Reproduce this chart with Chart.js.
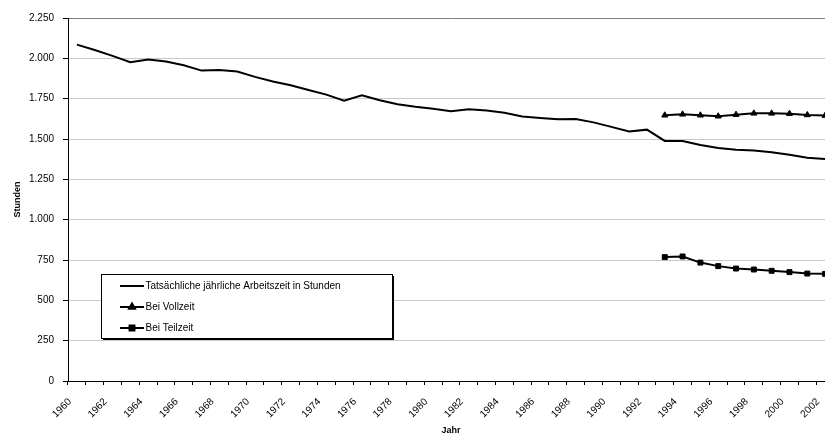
<!DOCTYPE html>
<html lang="de">
<head>
<meta charset="utf-8">
<title>Jährliche Arbeitszeit</title>
<script src="https://cdn.jsdelivr.net/npm/chart.js@4/dist/chart.umd.min.js"></script>
<style>
  html, body { margin: 0; padding: 0; background: #fff; overflow: hidden; width: 825px; height: 437px; }
  #wrap { width: 825px; height: 437px; overflow: hidden; position: relative; }
  #chart { position: absolute; left: 0; top: 0; }
</style>
</head>
<body>
<div id="wrap"><canvas id="chart" width="834" height="437"></canvas></div>
<script>
// Jahre 1960–2002
const years = [];
for (let y = 1960; y <= 2002; y++) years.push(String(y));

// Tatsächliche jährliche Arbeitszeit in Stunden
const actualHours = [
  2085, 2052, 2015, 1976, 1992, 1980, 1957, 1924, 1928, 1918,
  1885, 1856, 1833, 1804, 1775, 1738, 1771, 1740, 1715, 1700,
  1688, 1672, 1684, 1676, 1663, 1639, 1630, 1622, 1624, 1603,
  1575, 1546, 1558, 1488, 1488, 1463, 1444, 1434, 1428, 1418,
  1403, 1384, 1376
];

// Vollzeit und Teilzeit ab 1993
const fullTime = [1647, 1653, 1647, 1641, 1651, 1659, 1659, 1657, 1649, 1645];
const partTime = [768, 772, 734, 712, 697, 691, 683, 675, 666, 664];
const splitStart = 1993;

const yTicks = [0, 250, 500, 750, 1000, 1250, 1500, 1750, 2000, 2250];

function padFrom(startYear, values) {
  return years.map(y => {
    const i = Number(y) - startYear;
    return i >= 0 && i < values.length ? values[i] : null;
  });
}

function fmtDE(v) {
  return String(v).replace(/\B(?=(\d{3})+(?!\d))/g, '.');
}

const FONT = 'Liberation Sans, Arial, Helvetica, sans-serif';
Chart.defaults.font.family = FONT;
Chart.defaults.font.size = 10;
Chart.defaults.color = '#000';

// Zeichenfläche fest: links 68, oben 18, unten 381, rechts 834
const fixedArea = {
  id: 'fixedArea',
  afterLayout(chart) {
    const x = chart.scales.x, y = chart.scales.y;
    const ca = chart.chartArea;
    ca.left = 68; ca.right = 834; ca.top = 18; ca.bottom = 381;
    ca.width = ca.right - ca.left; ca.height = ca.bottom - ca.top;
    x.left = ca.left; x.right = ca.right; x.width = ca.width;
    x.top = ca.bottom; x.bottom = chart.height; x.height = x.bottom - x.top;
    y.left = 0; y.right = ca.left; y.width = ca.left;
    y.top = ca.top; y.bottom = ca.bottom; y.height = ca.height;
    x.configure(); y.configure();
    x._labelItems = null; y._labelItems = null;
    x._gridLineItems = null; y._gridLineItems = null;
  }
};

// Legendenkasten innerhalb der Zeichenfläche
const boxLegend = {
  id: 'boxLegend',
  afterDraw(chart) {
    const ctx = chart.ctx;
    const x0 = 101.5, y0 = 274.5, w = 291, h = 64;
    ctx.save();
    ctx.fillStyle = '#000';
    ctx.fillRect(x0 + 1.5, y0 + 1.5, w, h);
    ctx.fillStyle = '#fff';
    ctx.fillRect(x0, y0, w, h);
    ctx.strokeStyle = '#000';
    ctx.lineWidth = 1;
    ctx.strokeRect(x0, y0, w, h);
    const rows = [286, 307, 328];
    chart.data.datasets.forEach((ds, i) => {
      const yy = rows[i];
      ctx.strokeStyle = '#000';
      ctx.lineWidth = 2;
      ctx.beginPath();
      ctx.moveTo(120, yy);
      ctx.lineTo(144, yy);
      ctx.stroke();
      if (ds.pointStyle && ds.pointRadius > 0) {
        Chart.helpers.drawPoint(ctx, {
          pointStyle: ds.pointStyle, radius: ds.pointRadius, rotation: 0, borderWidth: 1
        }, 132, yy);
        ctx.fillStyle = '#000';
        ctx.fill();
      }
      ctx.fillStyle = '#000';
      ctx.font = '10px ' + FONT;
      ctx.textBaseline = 'middle';
      ctx.textAlign = 'left';
      ctx.fillText(ds.label, 145.5, yy + 0.5);
    });
    ctx.restore();
  }
};

new Chart(document.getElementById('chart'), {
  type: 'line',
  data: {
    labels: years,
    datasets: [
      {
        label: 'Tatsächliche jährliche Arbeitszeit in Stunden',
        data: actualHours,
        borderColor: '#000',
        backgroundColor: '#000',
        borderWidth: 2,
        pointRadius: 0,
        tension: 0
      },
      {
        label: 'Bei Vollzeit',
        data: padFrom(splitStart, fullTime),
        borderColor: '#000',
        backgroundColor: '#000',
        borderWidth: 2,
        pointStyle: 'triangle',
        pointRadius: 3.5,
        pointBorderWidth: 1,
        tension: 0
      },
      {
        label: 'Bei Teilzeit',
        data: padFrom(splitStart, partTime),
        borderColor: '#000',
        backgroundColor: '#000',
        borderWidth: 2,
        pointStyle: 'rect',
        pointRadius: 3.5,
        pointBorderWidth: 1,
        tension: 0
      }
    ]
  },
  options: {
    responsive: false,
    animation: false,
    events: [],
    layout: { padding: { top: 18, left: 0, right: 0, bottom: 0 } },
    plugins: { legend: { display: false }, tooltip: { enabled: false } },
    scales: {
      x: {
        type: 'category',
        offset: true,
        afterFit(scale) {
          scale.height = 56;
          scale.paddingLeft = 0;
          scale.paddingRight = 0;
        },
        grid: {
          offset: true,
          drawOnChartArea: false,
          drawTicks: true,
          tickLength: 4,
          tickColor: '#000'
        },
        border: { color: '#000', width: 1 },
        ticks: {
          autoSkip: false,
          minRotation: 45,
          maxRotation: 45,
          padding: 11,
          labelOffset: -7,
          font: { size: 10 },
          callback(value, index) { return index % 2 === 0 ? this.getLabelForValue(value) : ''; }
        },
        title: {
          display: true,
          text: 'Jahr',
          font: { size: 9, weight: 'bold' },
          padding: { top: 0, bottom: 1 }
        }
      },
      y: {
        min: 0,
        max: 2250,
        afterFit(scale) { scale.width = 68; },
        afterBuildTicks(scale) { scale.ticks = yTicks.map(v => ({ value: v })); },
        grid: {
          color: ctx => (ctx.tick && ctx.tick.value === 2250 ? '#808080' : '#c8c8c8'),
          lineWidth: 1,
          drawTicks: true,
          tickLength: 5,
          tickColor: '#000'
        },
        border: { color: '#000', width: 1 },
        ticks: {
          padding: 9,
          font: { size: 10 },
          callback(value) { return fmtDE(value); }
        },
        title: {
          display: true,
          text: 'Stunden',
          font: { size: 9, weight: 'bold' },
          padding: { top: 12.5, bottom: 0 }
        }
      }
    }
  },
  plugins: [fixedArea, boxLegend]
});
</script>
</body>
</html>
